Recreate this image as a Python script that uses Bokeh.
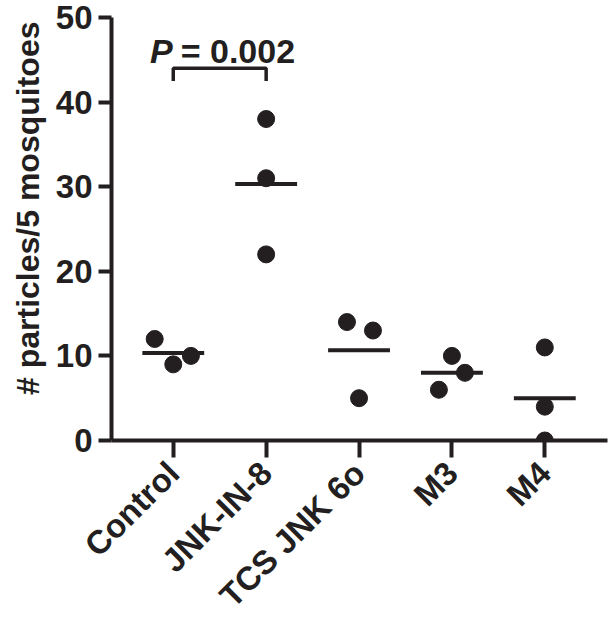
import numpy as np
from math import pi
from bokeh.plotting import figure
from bokeh.models import Range1d, Title, FixedTicker
from bokeh.core.properties import value
from bokeh.embed import file_html
from bokeh.resources import INLINE

# ---- data ----
groups = ["Control", "JNK-IN-8", "TCS JNK 6o", "M3", "M4"]
control = [12, 9, 10]
jnk_in_8 = [38, 31, 22]
tcs_jnk_6o = [14, 13, 5]
m3 = [10, 8, 6]
m4 = [11, 4, 0]
# horizontal spread of the points within a group (category units)
jitter = [[-0.2, 0.0, 0.19], [0.0, 0.0, 0.0], [-0.13, 0.15, 0.0], [0.0, 0.14, -0.14], [0.0, 0.0, 0.0]]
y_ticks = [0, 10, 20, 30, 40, 50]
p_text_italic = "P"
p_text_rest = "= 0.002"
compare_pair = [1, 2]  # Control vs JNK-IN-8
y_label = "# particles/5 mosquitoes"

series = [control, jnk_in_8, tcs_jnk_6o, m3, m4]
INK = "#231f20"
FONT = "Liberation Sans"

p = figure(width=615, height=630, output_backend="svg", toolbar_location=None,
           x_range=Range1d(0.335, 5.675), y_range=Range1d(0, 50),
           min_border_left=109, min_border_right=8, min_border_top=17, min_border_bottom=188)
p.outline_line_color = None
p.xgrid.visible = False
p.ygrid.visible = False
p.background_fill_color = "white"
p.border_fill_color = "white"

# points
xs, ys = [], []
for i, (vals, jit) in enumerate(zip(series, jitter)):
    for v, j in zip(vals, jit):
        xs.append(i + 1 + j)
        ys.append(v)
p.scatter(xs, ys, size=17, fill_color=INK, line_color=INK)

# mean lines
pos = np.arange(1, len(groups) + 1)
means = [float(np.mean(v)) for v in series]
p.segment(x0=pos - 0.333, x1=pos + 0.333, y0=means, y1=means, line_color=INK, line_width=4)

# significance bracket
top = 44.0
arm = 42.5
p.line([compare_pair[0], compare_pair[0], compare_pair[1], compare_pair[1]],
       [arm, top, top, arm], line_color=INK, line_width=3.5)
mid = (compare_pair[0] + compare_pair[1]) / 2
p.text(x=[mid], y=[46.0], text=[p_text_italic], text_font=value(FONT), text_font_style="bold italic",
       text_font_size="34px", text_align="right", text_baseline="alphabetic", text_color=INK, x_offset=-47)
p.text(x=[mid], y=[46.0], text=[p_text_rest], text_font=value(FONT), text_font_style="bold",
       text_font_size="34px", text_align="left", text_baseline="alphabetic", text_color=INK, x_offset=-39)

# axes
for ax in (p.xaxis[0], p.yaxis[0]):
    ax.axis_line_width = 4
    ax.axis_line_color = INK
    ax.major_tick_line_width = 4
    ax.major_tick_line_color = INK
    ax.minor_tick_line_color = None
    ax.major_tick_in = 0
    ax.major_label_text_font = FONT
    ax.major_label_text_font_style = "bold"
    ax.major_label_text_color = INK

p.yaxis.ticker = FixedTicker(ticks=y_ticks)
p.yaxis.major_tick_out = 13
p.yaxis.major_label_standoff = 6
p.yaxis.major_label_text_font_size = "33px"

p.xaxis.ticker = FixedTicker(ticks=list(pos))
p.xaxis.major_label_overrides = {int(k): g for k, g in zip(pos, groups)}
p.xaxis.major_tick_out = 17
p.xaxis.major_label_standoff = 10
p.xaxis.major_label_orientation = pi / 4
p.xaxis.major_label_text_font_size = "33px"

# y axis title
p.add_layout(Title(text=y_label, align="right", offset=4, standoff=14,
                   text_font=FONT, text_font_style="bold", text_font_size="32px",
                   text_color=INK), "left")

open("out.html", "w").write(file_html(p, INLINE))
